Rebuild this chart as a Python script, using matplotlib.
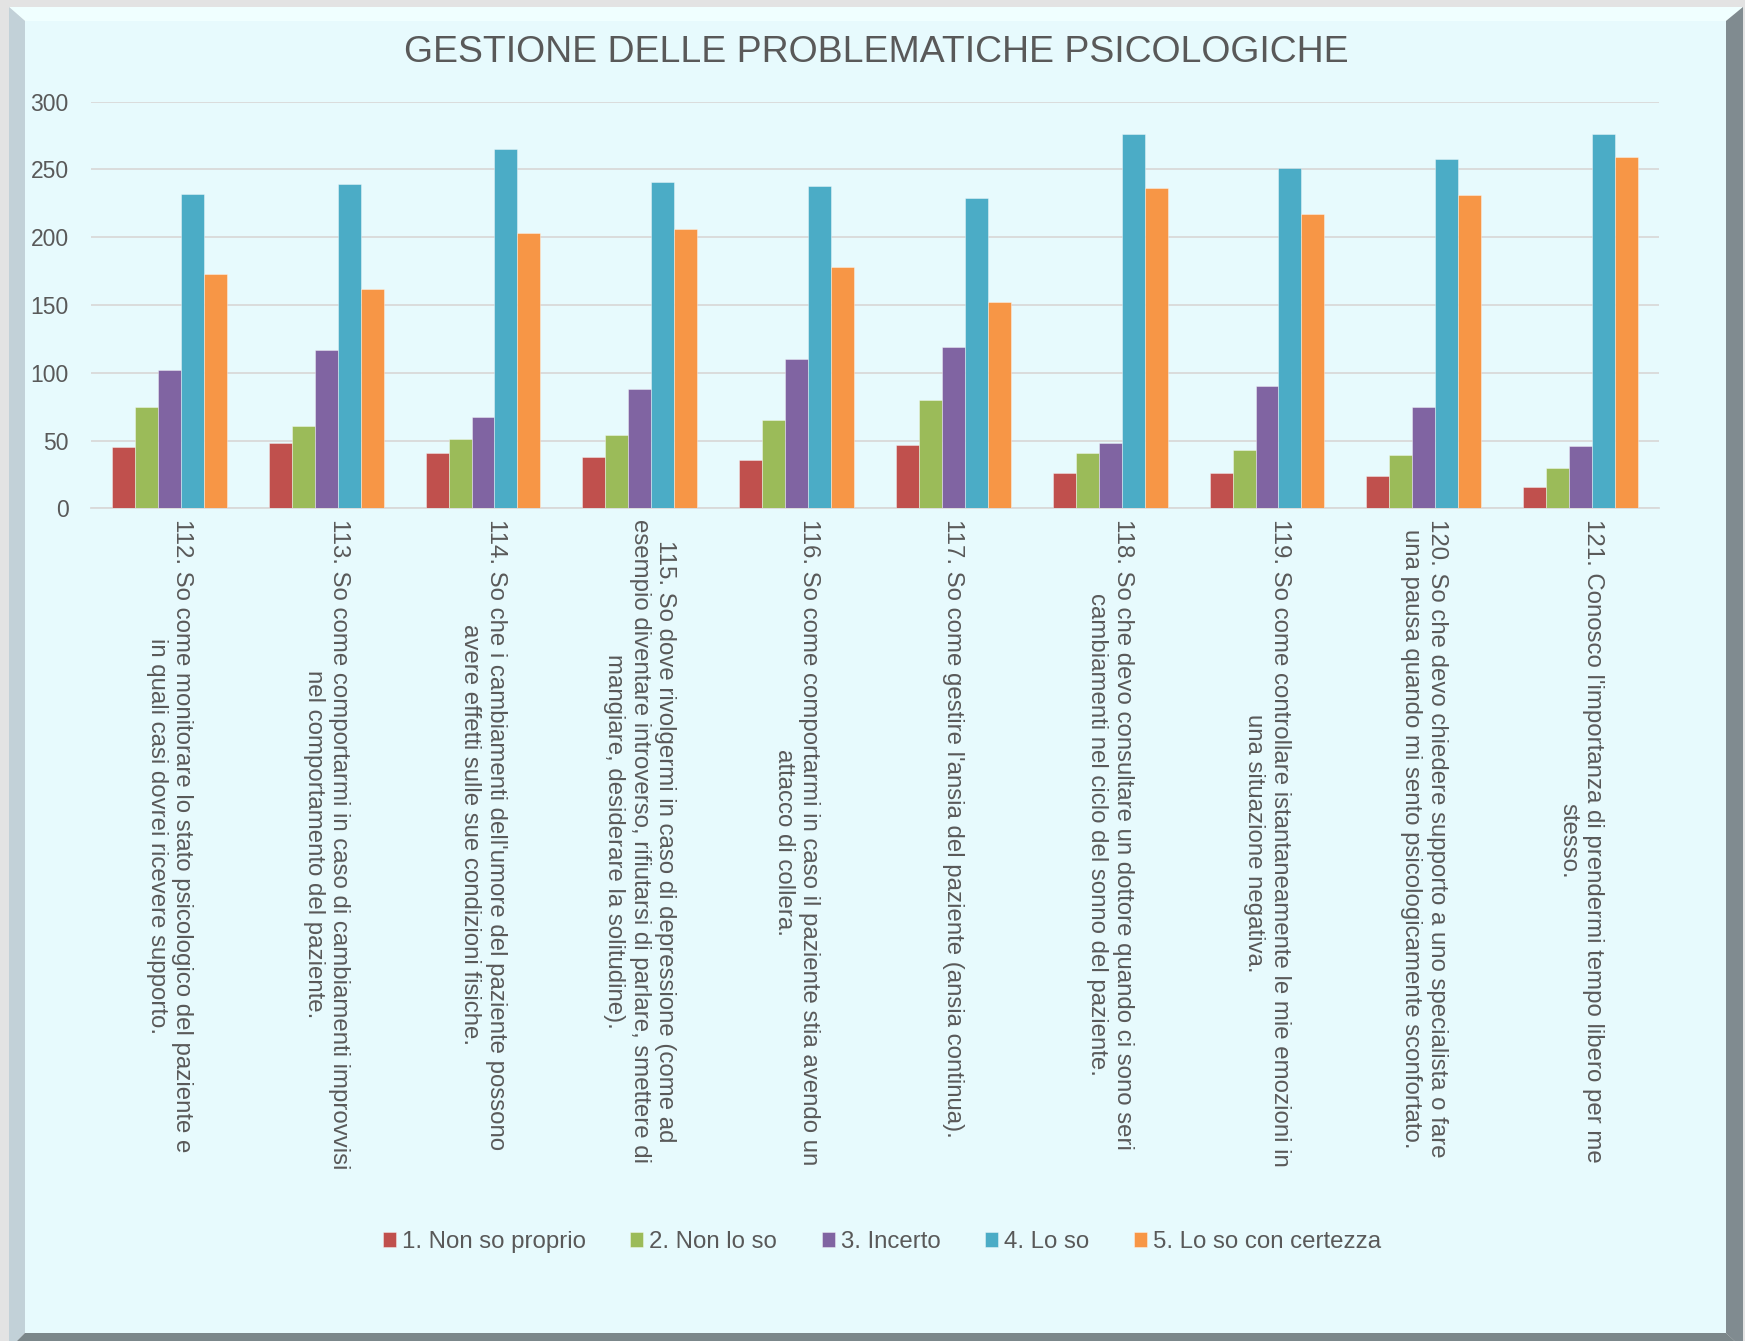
import matplotlib.pyplot as plt
from matplotlib.patches import Polygon, Rectangle
import numpy as np

plt.rcParams['font.family'] = ['Liberation Sans', 'DejaVu Sans']

W, H = 1745, 1341
TXT = '#595959'

title = "GESTIONE DELLE PROBLEMATICHE PSICOLOGICHE"

categories = [
    "112. So come monitorare lo stato psicologico del paziente e\nin quali casi dovrei ricevere supporto.",
    "113. So come comportarmi in caso di cambiamenti improvvisi\nnel comportamento del paziente.",
    "114. So che i cambiamenti dell'umore del paziente possono\navere effetti sulle sue condizioni fisiche.",
    "115. So dove rivolgermi in caso di depressione (come ad\nesempio diventare introverso, rifiutarsi di parlare, smettere di\nmangiare, desiderare la solitudine).",
    "116. So come comportarmi in caso il paziente stia avendo un\nattacco di collera.",
    "117. So come gestire l'ansia del paziente (ansia continua).",
    "118. So che devo consultare un dottore quando ci sono seri\ncambiamenti nel ciclo del sonno del paziente.",
    "119. So come controllare istantaneamente le mie emozioni in\nuna situazione negativa.",
    "120. So che devo chiedere supporto a uno specialista o fare\nuna pausa quando mi sento psicologicamente sconfortato.",
    "121. Conosco l'importanza di prendermi tempo libero per me\nstesso.",
]

series_names = ["1. Non so proprio", "2. Non lo so", "3. Incerto",
                "4. Lo so", "5. Lo so con certezza"]
non_so_proprio = [45, 48, 41, 38, 36, 47, 26, 26, 24, 16]
non_lo_so = [75, 61, 51, 54, 65, 80, 41, 43, 39, 30]
incerto = [102, 117, 67, 88, 110, 119, 48, 90, 75, 46]
lo_so = [232, 239, 265, 241, 238, 229, 276, 251, 258, 276]
con_certezza = [173, 162, 203, 206, 178, 152, 236, 217, 231, 259]
colors = ["#C0504D", "#9BBB59", "#8064A2", "#4BACC6", "#F79646"]

fig = plt.figure(figsize=(W / 100, H / 100), dpi=100)
fig.patch.set_facecolor('#e3e3e3')

# bevelled frame drawn in pixel coords
bg = fig.add_axes([0, 0, 1, 1])
bg.set_xlim(0, W)
bg.set_ylim(H, 0)
bg.axis('off')
ox0, oy0, ox1, oy1 = 9, 7, 1743, 1349
ix0, iy0, ix1, iy1 = 25, 21, 1726, 1333
bg.add_patch(Polygon([(ox0, oy0), (ox1, oy0), (ix1, iy0), (ix0, iy0)], color='#f0ffff', lw=0))
bg.add_patch(Polygon([(ox0, oy0), (ix0, iy0), (ix0, iy1), (ox0, oy1)], color='#c2d1d8', lw=0))
bg.add_patch(Polygon([(ox1, oy0), (ox1, oy1), (ix1, iy1), (ix1, iy0)], color='#808b90', lw=0))
bg.add_patch(Polygon([(ox0, oy1), (ix0, iy1), (ix1, iy1), (ox1, oy1)], color='#7b878a', lw=0))
bg.add_patch(Rectangle((ix0, iy0), ix1 - ix0, iy1 - iy0, color='#e7fafd', lw=0))

ax = fig.add_axes([91 / W, 1 - 508.3 / H, 1568 / W, 406.6 / H])
ax.patch.set_alpha(0)

x = np.arange(len(categories))
bw = 0.733 / 5
series = [non_so_proprio, non_lo_so, incerto, lo_so, con_certezza]
for i, (vals, name, c) in enumerate(zip(series, series_names, colors)):
    ax.bar(x + (i - 2) * bw, vals, bw, color=c, label=name,
           edgecolor=(1, 1, 1, 0.45), linewidth=0.6, zorder=3)

ax.set_xlim(-0.5, len(categories) - 0.5)
ax.set_ylim(0, 300)
ax.set_yticks(range(0, 301, 50))
ax.yaxis.grid(True, color='#d9d9d9', lw=1.3)
ax.set_axisbelow(True)
for s in ['top', 'right', 'left']:
    ax.spines[s].set_visible(False)
ax.spines['bottom'].set_color('#d9d9d9')
ax.spines['bottom'].set_linewidth(1.3)
ax.tick_params(length=0)
ax.tick_params(axis='y', labelsize=16.5, labelcolor=TXT, pad=16)
ax.set_xticks(x)
ax.set_xticklabels(categories, rotation=270, ha='center', va='top',
                   multialignment='center', fontsize=17.3, color=TXT)
ax.tick_params(axis='x', pad=8)

fig.text(876 / W, 1 - 62 / H, title, ha='center', va='baseline',
         fontsize=26.9, color=TXT)

fig.legend(loc='center', bbox_to_anchor=(882 / W, 1 - 1242 / H), ncol=5,
           frameon=False, fontsize=17.3, handlelength=0.55, handleheight=0.55,
           handletextpad=0.25, columnspacing=1.85, labelcolor=TXT)

fig.savefig('out.png', dpi=100, facecolor=fig.get_facecolor())
